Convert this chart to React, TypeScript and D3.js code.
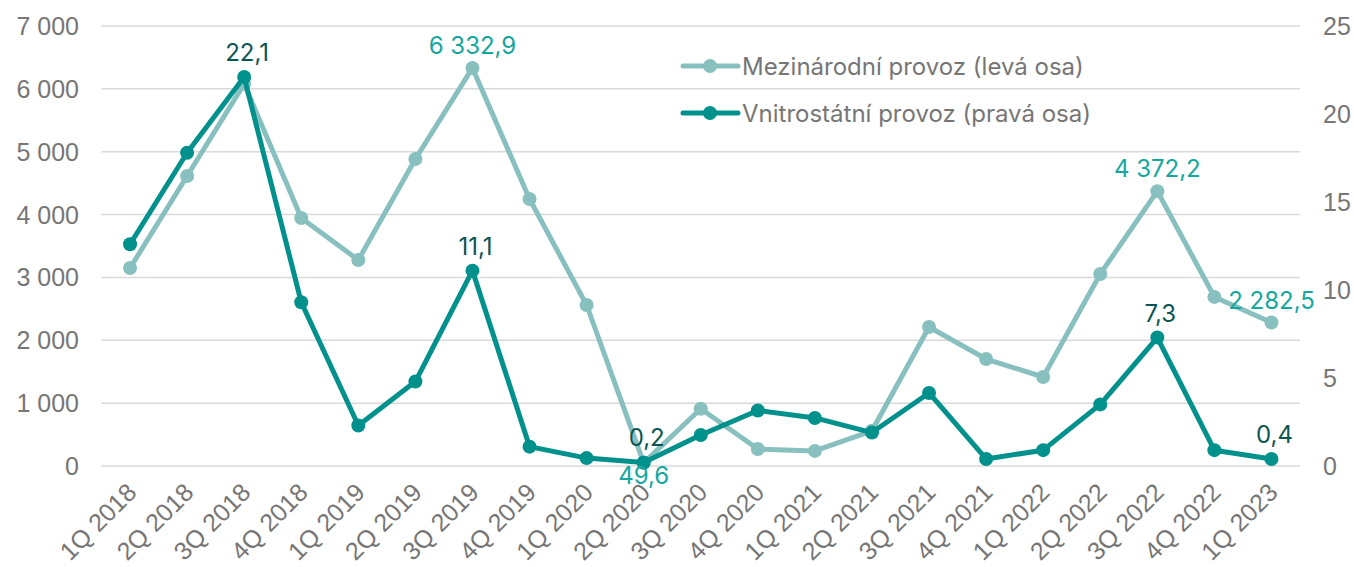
import React from 'react';
import * as d3 from 'd3';

// quarters on the x axis
const quarters = [
  '1Q 2018', '2Q 2018', '3Q 2018', '4Q 2018',
  '1Q 2019', '2Q 2019', '3Q 2019', '4Q 2019',
  '1Q 2020', '2Q 2020', '3Q 2020', '4Q 2020',
  '1Q 2021', '2Q 2021', '3Q 2021', '4Q 2021',
  '1Q 2022', '2Q 2022', '3Q 2022', '4Q 2022',
  '1Q 2023',
];

// Mezinárodní provoz (left axis)
const international = [
  3150, 4614, 6080, 3945, 3277, 4884, 6332.9, 4248, 2561, 49.6, 910,
  270, 240, 560, 2211, 1702, 1416, 3054, 4372.2, 2690, 2282.5,
];

// Vnitrostátní provoz (right axis)
const domestic = [
  12.6, 17.8, 22.1, 9.3, 2.3, 4.8, 11.1, 1.1, 0.45, 0.2, 1.76,
  3.15, 2.73, 1.9, 4.15, 0.4, 0.9, 3.5, 7.3, 0.9, 0.4,
];

const leftTicks = [0, 1000, 2000, 3000, 4000, 5000, 6000, 7000];
const rightTicks = [0, 5, 10, 15, 20, 25];

// labelled points: index into series, placement
const intlLabels = [
  { i: 6, pos: 'above' },
  { i: 9, pos: 'below' },
  { i: 18, pos: 'above' },
  { i: 20, pos: 'above' },
];
const domLabels = [
  { i: 2, pos: 'above' },
  { i: 6, pos: 'above' },
  { i: 9, pos: 'above' },
  { i: 18, pos: 'above' },
  { i: 20, pos: 'above' },
];

const legendItems = ['Mezinárodní provoz (levá osa)', 'Vnitrostátní provoz (pravá osa)'];

const W = 1354;
const H = 567;
const LIGHT = '#87c0bf';
const DARK = '#00918d';
const LIGHT_TXT = '#14a7a0';
const DARK_TXT = '#0b5553';
const AXIS_TXT = '#767676';
const GRID = '#d9d9d9';
const tickFont = '"Liberation Sans", Arial, sans-serif';
const labelFont = 'Inter, "Noto Sans", sans-serif';

// czech number format: space thousands, comma decimals
const fmt = (v: number, dec: number) => {
  const s = v.toFixed(dec);
  const [a, b] = s.split('.');
  const int = a.replace(/\B(?=(\d{3})+(?!\d))/g, ' ');
  return b ? `${int},${b}` : int;
};

export default function App() {
  const plotLeft = 101.5;
  const plotRight = 1300;
  const top = 26;
  const bottom = 466;

  const x = d3.scaleBand<string>().domain(quarters).range([plotLeft, plotRight]);
  const cx = (i: number) => x(quarters[i])! + x.bandwidth() / 2;
  const yL = d3.scaleLinear().domain([0, 7000]).range([bottom, top]);
  const yR = d3.scaleLinear().domain([0, 25]).range([bottom, top]);

  const lineL = d3.line<number>().x((_, i) => cx(i)).y(d => yL(d));
  const lineR = d3.line<number>().x((_, i) => cx(i)).y(d => yR(d));

  return (
    <svg width={W} height={H} style={{ position: 'absolute', left: 0, top: 0, background: '#fff' }}>
      {/* grid */}
      {leftTicks.map(t => (
        <line key={t} x1={plotLeft} x2={plotRight} y1={yL(t)} y2={yL(t)} stroke={GRID} strokeWidth={1.5} />
      ))}
      {/* left axis */}
      {leftTicks.map(t => (
        <text key={'l' + t} x={79} y={yL(t)} dy="0.36em" textAnchor="end" fill={AXIS_TXT}
          fontFamily={tickFont} fontSize={25}>{fmt(t, 0)}</text>
      ))}
      {/* right axis */}
      {rightTicks.map(t => (
        <text key={'r' + t} x={1323} y={yR(t)} dy="0.36em" textAnchor="start" fill={AXIS_TXT}
          fontFamily={tickFont} fontSize={25}>{t}</text>
      ))}
      {/* x labels */}
      {quarters.map((q, i) => (
        <text key={q} transform={`translate(${cx(i) + 8},${494}) rotate(-45)`} textAnchor="end"
          fill={AXIS_TXT} fontFamily={tickFont} fontSize={25}>{q}</text>
      ))}

      {/* series */}
      <path d={lineL(international)!} fill="none" stroke={LIGHT} strokeWidth={5} strokeLinejoin="round" />
      {international.map((v, i) => (
        <circle key={'ci' + i} cx={cx(i)} cy={yL(v)} r={7} fill={LIGHT} />
      ))}
      <path d={lineR(domestic)!} fill="none" stroke={DARK} strokeWidth={5} strokeLinejoin="round" />
      {domestic.map((v, i) => (
        <circle key={'cd' + i} cx={cx(i)} cy={yR(v)} r={7} fill={DARK} />
      ))}

      {/* data labels */}
      {intlLabels.map(({ i, pos }) => (
        <text key={'li' + i} x={cx(i)} y={pos === 'above' ? yL(international[i]) - 14 : yL(international[i]) + 21}
          textAnchor="middle" fill={LIGHT_TXT} fontFamily={labelFont} fontSize={24}>
          {fmt(international[i], 1)}
        </text>
      ))}
      {domLabels.map(({ i }) => (
        <text key={'ld' + i} x={cx(i) + 3} y={yR(domestic[i]) - 16} textAnchor="middle"
          fill={DARK_TXT} fontFamily={labelFont} fontSize={24}>
          {fmt(domestic[i], 1)}
        </text>
      ))}

      {/* legend */}
      {legendItems.map((name, k) => {
        const ly = 66 + k * 47;
        const c = k === 0 ? LIGHT : DARK;
        return (
          <g key={name}>
            <line x1={683} x2={738} y1={ly} y2={ly} stroke={c} strokeWidth={5} strokeLinecap="round" />
            <circle cx={710} cy={ly} r={7} fill={c} />
            <text x={742} y={ly} dy="0.36em" fill={AXIS_TXT} fontFamily={labelFont} fontSize={24}>{name}</text>
          </g>
        );
      })}
    </svg>
  );
}
